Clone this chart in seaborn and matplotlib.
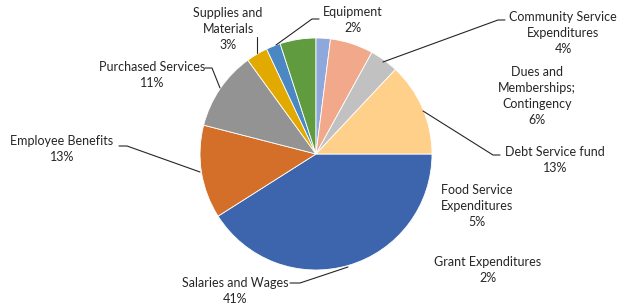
import matplotlib
matplotlib.use("Agg")
import matplotlib.pyplot as plt
import seaborn as sns

categories = ["Salaries and Wages", "Employee Benefits", "Purchased Services",
              "Supplies and\nMaterials", "Equipment", "Food Service\nExpenditures",
              "Grant Expenditures", "Dues and\nMemberships;\nContingency",
              "Community Service\nExpenditures", "Debt Service fund"]
values = [41, 13, 11, 3, 2, 5, 2, 6, 4, 13]
colors = ["#3C65AE", "#D46F2A", "#939393", "#E2A900", "#4B88C3", "#609B3F",
          "#8FA8DC", "#F2A98B", "#C1C1C1", "#FFD08A"]

# layout (pixel coordinates, y from top)
H = 307
center = (316, 154)
radius = 116
label_pos = [(235, 291), (62, 149), (152, 75), (228, 29), (353, 20), (477, 206),
             (488, 270), (537, 96), (563, 33), (555, 160)]
leaders = [[(348, 267), (300, 283), (290, 283)],
           [(200, 172), (127, 146), (119, 146)],
           [(220, 88), (212, 68), (205, 68)],
           [(257, 53), (257, 37)],
           [(276, 45), (312, 19), (319, 19)],
           None, None, None,
           [(383, 62), (498, 20), (505, 20)],
           [(423, 111), (493, 155), (500, 155)]]

sns.set_theme(style="white")
plt.rcParams["font.family"] = ["Lato", "DejaVu Sans"]

fig = plt.figure(figsize=(6.25, 3.07), dpi=100)
ax = fig.add_axes([0, 0, 1, 1])
ax.pie(values, colors=colors, startangle=0, counterclock=False,
       center=(center[0], H - center[1]), radius=radius,
       wedgeprops=dict(linewidth=0.6, edgecolor="white"))
ax.set_xlim(0, 625)
ax.set_ylim(0, H)
ax.set_aspect("equal")
ax.axis("off")

for cat, v, (x, y), ld in zip(categories, values, label_pos, leaders):
    ax.text(x, H - y, f"{cat}\n{v}%", ha="center", va="center",
            fontsize=9, color="#262626", linespacing=1.4)
    if ld:
        ax.plot([p[0] for p in ld], [H - p[1] for p in ld], color="#262626", lw=0.8)

fig.savefig("out.png", dpi=100)
